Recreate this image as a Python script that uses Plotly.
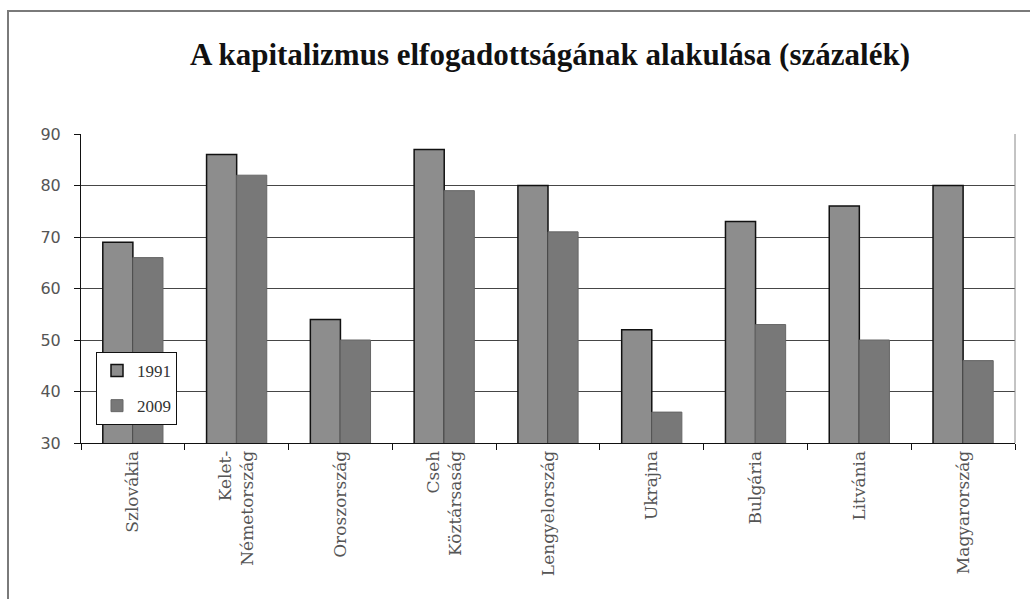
import plotly.graph_objects as go

categories = ["Szlovákia", "Kelet-<br>Németország", "Oroszország", "Cseh<br>Köztársaság",
              "Lengyelország", "Ukrajna", "Bulgária", "Litvánia", "Magyarország"]
values_1991 = [69, 86, 54, 87, 80, 52, 73, 76, 80]
values_2009 = [66, 82, 50, 79, 71, 36, 53, 50, 46]
y_ticks = [30, 40, 50, 60, 70, 80, 90]

W, H = 1030, 599
L, R, T, B = 81, 1015, 134, 443

fig = go.Figure()
fig.add_trace(go.Bar(x=categories, y=values_1991, name="1991",
                     marker=dict(color="#8d8d8d", line=dict(color="#111111", width=1.5)),
                     legendgroup="a"))
fig.add_trace(go.Bar(x=categories, y=values_2009, name="2009",
                     marker=dict(color="#787878", line=dict(color="#666666", width=1)),
                     legendgroup="b"))

fig.update_layout(
    width=W, height=H,
    margin=dict(l=0, r=0, t=0, b=0, pad=0, autoexpand=False),
    paper_bgcolor="white", plot_bgcolor="white",
    barmode="group", bargap=0.42, bargroupgap=0,
    title=dict(text="<b>A kapitalizmus elfogadottságának alakulása (százalék)</b>",
               x=550 / W, xanchor="center", y=1 - 54 / H, yanchor="middle",
               font=dict(family="Liberation Serif", size=31, color="#111111")),
    xaxis=dict(domain=[L / W, R / W], showline=True, linecolor="#111111", linewidth=1,
               ticks="outside", tickson="boundaries", ticklen=6, tickcolor="#111111",
               tickangle=-90, showgrid=False, automargin=False,
               tickfont=dict(family="DejaVu Serif", size=17, color="#555555")),
    yaxis=dict(domain=[1 - B / H, 1 - T / H], range=[30, 90], tickvals=y_ticks,
               showline=True, linecolor="#111111", linewidth=1, automargin=False,
               ticks="outside", ticklen=6, tickcolor="#111111", ticklabelstandoff=10,
               showgrid=True, gridcolor="#464646", gridwidth=1.3, zeroline=False,
               tickfont=dict(family="DejaVu Sans", size=16, color="#555555")),
    legend=dict(x=96 / W, y=1 - 352 / H, xanchor="left", yanchor="top",
                bgcolor="white", bordercolor="#111111", borderwidth=1,
                tracegroupgap=10, itemwidth=30,
                font=dict(family="Liberation Serif", size=17, color="#333333")),
    showlegend=True,
    shapes=[
        dict(type="line", xref="paper", yref="paper", x0=R / W, x1=R / W,
             y0=1 - B / H, y1=1 - T / H, line=dict(color="#888888", width=1)),
        dict(type="rect", xref="paper", yref="paper", x0=8 / W, x1=1.05,
             y0=-0.05, y1=1 - 11 / H, line=dict(color="#7a7a7a", width=2),
             fillcolor="rgba(0,0,0,0)", layer="below"),
    ],
)

post = ("document.documentElement.style.margin='0';document.body.style.margin='0';"
        "document.documentElement.style.overflow='hidden';document.body.style.overflow='hidden';"
        "var d=document.getElementById('{plot_id}');d.style.position='fixed';"
        "d.style.top='0px';d.style.left='0px';")

fig.write_html("out.html", config={"displayModeBar": False}, post_script=post)
